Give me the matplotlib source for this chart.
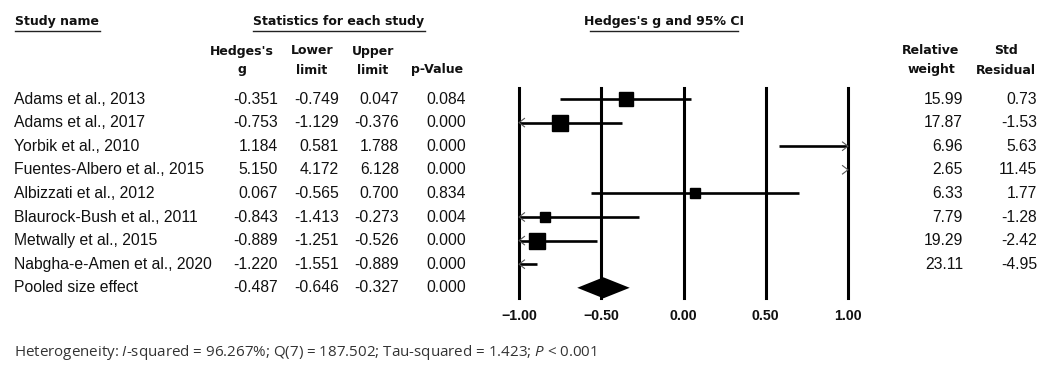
import matplotlib
matplotlib.use("Agg")
import matplotlib.pyplot as plt
import numpy as np

# ---------------- data ----------------
studies = ["Adams et al., 2013", "Adams et al., 2017", "Yorbik et al., 2010",
           "Fuentes-Albero et al., 2015", "Albizzati et al., 2012",
           "Blaurock-Bush et al., 2011", "Metwally et al., 2015",
           "Nabgha-e-Amen et al., 2020"]
hedges_g = [-0.351, -0.753, 1.184, 5.150, 0.067, -0.843, -0.889, -1.220]
lower = [-0.749, -1.129, 0.581, 4.172, -0.565, -1.413, -1.251, -1.551]
upper = [0.047, -0.376, 1.788, 6.128, 0.700, -0.273, -0.526, -0.889]
p_value = [0.084, 0.000, 0.000, 0.000, 0.834, 0.004, 0.000, 0.000]
rel_weight = [15.99, 17.87, 6.96, 2.65, 6.33, 7.79, 19.29, 23.11]
std_resid = [0.73, -1.53, 5.63, 11.45, 1.77, -1.28, -2.42, -4.95]

pooled_label = "Pooled size effect"
pooled_g = -0.487
pooled_lower = -0.646
pooled_upper = -0.327
pooled_p = 0.000

x_ticks = [-1.0, -0.5, 0.0, 0.5, 1.0]
x_tick_labels = ["\u22121.00", "\u22120.50", "0.00", "0.50", "1.00"]

footer = (r"Heterogeneity: $\mathit{I}$-squared = 96.267%; Q(7) = 187.502; "
          r"Tau-squared = 1.423; $\mathit{P}$ < 0.001")

# ---------------- layout ----------------
W, H = 1054, 367
fig = plt.figure(figsize=(W / 100, H / 100), dpi=100)
fig.patch.set_facecolor("white")

plt.rcParams["mathtext.fontset"] = "custom"
plt.rcParams["mathtext.rm"] = "Open Sans"
plt.rcParams["mathtext.it"] = "Open Sans:italic"

ax_t = fig.add_axes([0, 0, 1, 1])
ax_t.set_xlim(0, W)
ax_t.set_ylim(H, 0)
ax_t.axis("off")

row0 = 99.0
row_h = 23.6
n = len(studies)

hdr_font = dict(family="DejaVu Sans", fontweight="bold", fontsize=9.0, color="#111111")
tab_font = dict(family="Liberation Sans", fontsize=11.3, color="#111111")

# headers
ax_t.text(15, 22, "Study name", ha="left", va="center", **hdr_font)
ax_t.plot([15, 100], [31, 31], color="#222222", lw=1.0)
ax_t.text(339, 22, "Statistics for each study", ha="center", va="center", **hdr_font)
ax_t.plot([253, 425], [31, 31], color="#222222", lw=1.0)
ax_t.text(664, 22, "Hedges's g and 95% CI", ha="center", va="center", **hdr_font)
ax_t.plot([590, 738], [31, 31], color="#222222", lw=1.0)

sub_headers = [(242, "Hedges's", "g"), (312, "Lower", "limit"), (373, "Upper", "limit"),
               (437, "", "p-Value"), (931, "Relative", "weight"), (1006, "Std", "Residual")]
for xc, l1, l2 in sub_headers:
    if l1:
        ax_t.text(xc, 51, l1, ha="center", va="center", **hdr_font)
    ax_t.text(xc, 70, l2, ha="center", va="center", **hdr_font)

# table rows
col_g, col_lo, col_hi, col_p = 278, 339, 399, 466
col_w, col_r = 963, 1037
for i in range(n):
    y = row0 + i * row_h
    ax_t.text(14, y, studies[i], ha="left", va="center", **tab_font)
    ax_t.text(col_g, y, f"{hedges_g[i]:.3f}", ha="right", va="center", **tab_font)
    ax_t.text(col_lo, y, f"{lower[i]:.3f}", ha="right", va="center", **tab_font)
    ax_t.text(col_hi, y, f"{upper[i]:.3f}", ha="right", va="center", **tab_font)
    ax_t.text(col_p, y, f"{p_value[i]:.3f}", ha="right", va="center", **tab_font)
    ax_t.text(col_w, y, f"{rel_weight[i]:.2f}", ha="right", va="center", **tab_font)
    ax_t.text(col_r, y, f"{std_resid[i]:.2f}", ha="right", va="center", **tab_font)

y = row0 + n * row_h
ax_t.text(14, y, pooled_label, ha="left", va="center", **tab_font)
ax_t.text(col_g, y, f"{pooled_g:.3f}", ha="right", va="center", **tab_font)
ax_t.text(col_lo, y, f"{pooled_lower:.3f}", ha="right", va="center", **tab_font)
ax_t.text(col_hi, y, f"{pooled_upper:.3f}", ha="right", va="center", **tab_font)
ax_t.text(col_p, y, f"{pooled_p:.3f}", ha="right", va="center", **tab_font)

ax_t.text(14, 352, footer, ha="left", va="center", family="Open Sans",
          fontsize=10.9, color="#333333")

# ---------------- forest plot ----------------
x_left, x_right = 519, 848
y_top, y_bot = 88, 298
ax_f = fig.add_axes([x_left / W, 1 - y_bot / H, (x_right - x_left) / W, (y_bot - y_top) / H])
ax_f.patch.set_alpha(0)
ax_f.set_xlim(-1, 1)
ax_f.set_ylim((y_bot - row0) / row_h, (y_top - row0) / row_h)
for s in ax_f.spines.values():
    s.set_visible(False)
ax_f.set_yticks([])
ax_f.set_xticks(x_ticks)
ax_f.set_xticklabels(x_tick_labels, family="Liberation Sans", fontweight="bold",
                     fontsize=10.2, color="#111111")
ax_f.tick_params(axis="x", length=0, pad=8)

for xt in x_ticks:
    ax_f.axvline(xt, color="black", lw=2.2, zorder=1, clip_on=False)

px = 2.0 / (x_right - x_left)  # data units per pixel in x
ady = 4.2 / row_h
adx = 5.5 * px
for i in range(n):
    lo_c = max(lower[i], -1.0)
    hi_c = min(upper[i], 1.0)
    if lo_c < hi_c:
        ax_f.plot([lo_c, hi_c], [i, i], color="black", lw=1.9, solid_capstyle="butt",
                  zorder=2, clip_on=False)
    if lower[i] < -1.0:
        ax_f.plot([-1 + adx, -1, -1 + adx], [i - ady, i, i + ady], color="#555555",
                  lw=0.8, zorder=3, clip_on=False)
    if upper[i] > 1.0:
        ax_f.plot([1 - adx, 1, 1 - adx], [i - ady, i, i + ady], color="#555555",
                  lw=0.8, zorder=3, clip_on=False)
    if -1.0 <= hedges_g[i] <= 1.0:
        side_px = 3.75 * np.sqrt(rel_weight[i])
        ax_f.plot([hedges_g[i]], [i], marker="s", color="black",
                  markersize=side_px * 0.72, zorder=4, clip_on=False)

dh = 10.5 / row_h
ax_f.fill([pooled_lower, pooled_g, pooled_upper, pooled_g],
          [n, n - dh, n, n + dh], color="black", zorder=4, clip_on=False, lw=0)

fig.savefig("out.png", dpi=100, facecolor="white")
